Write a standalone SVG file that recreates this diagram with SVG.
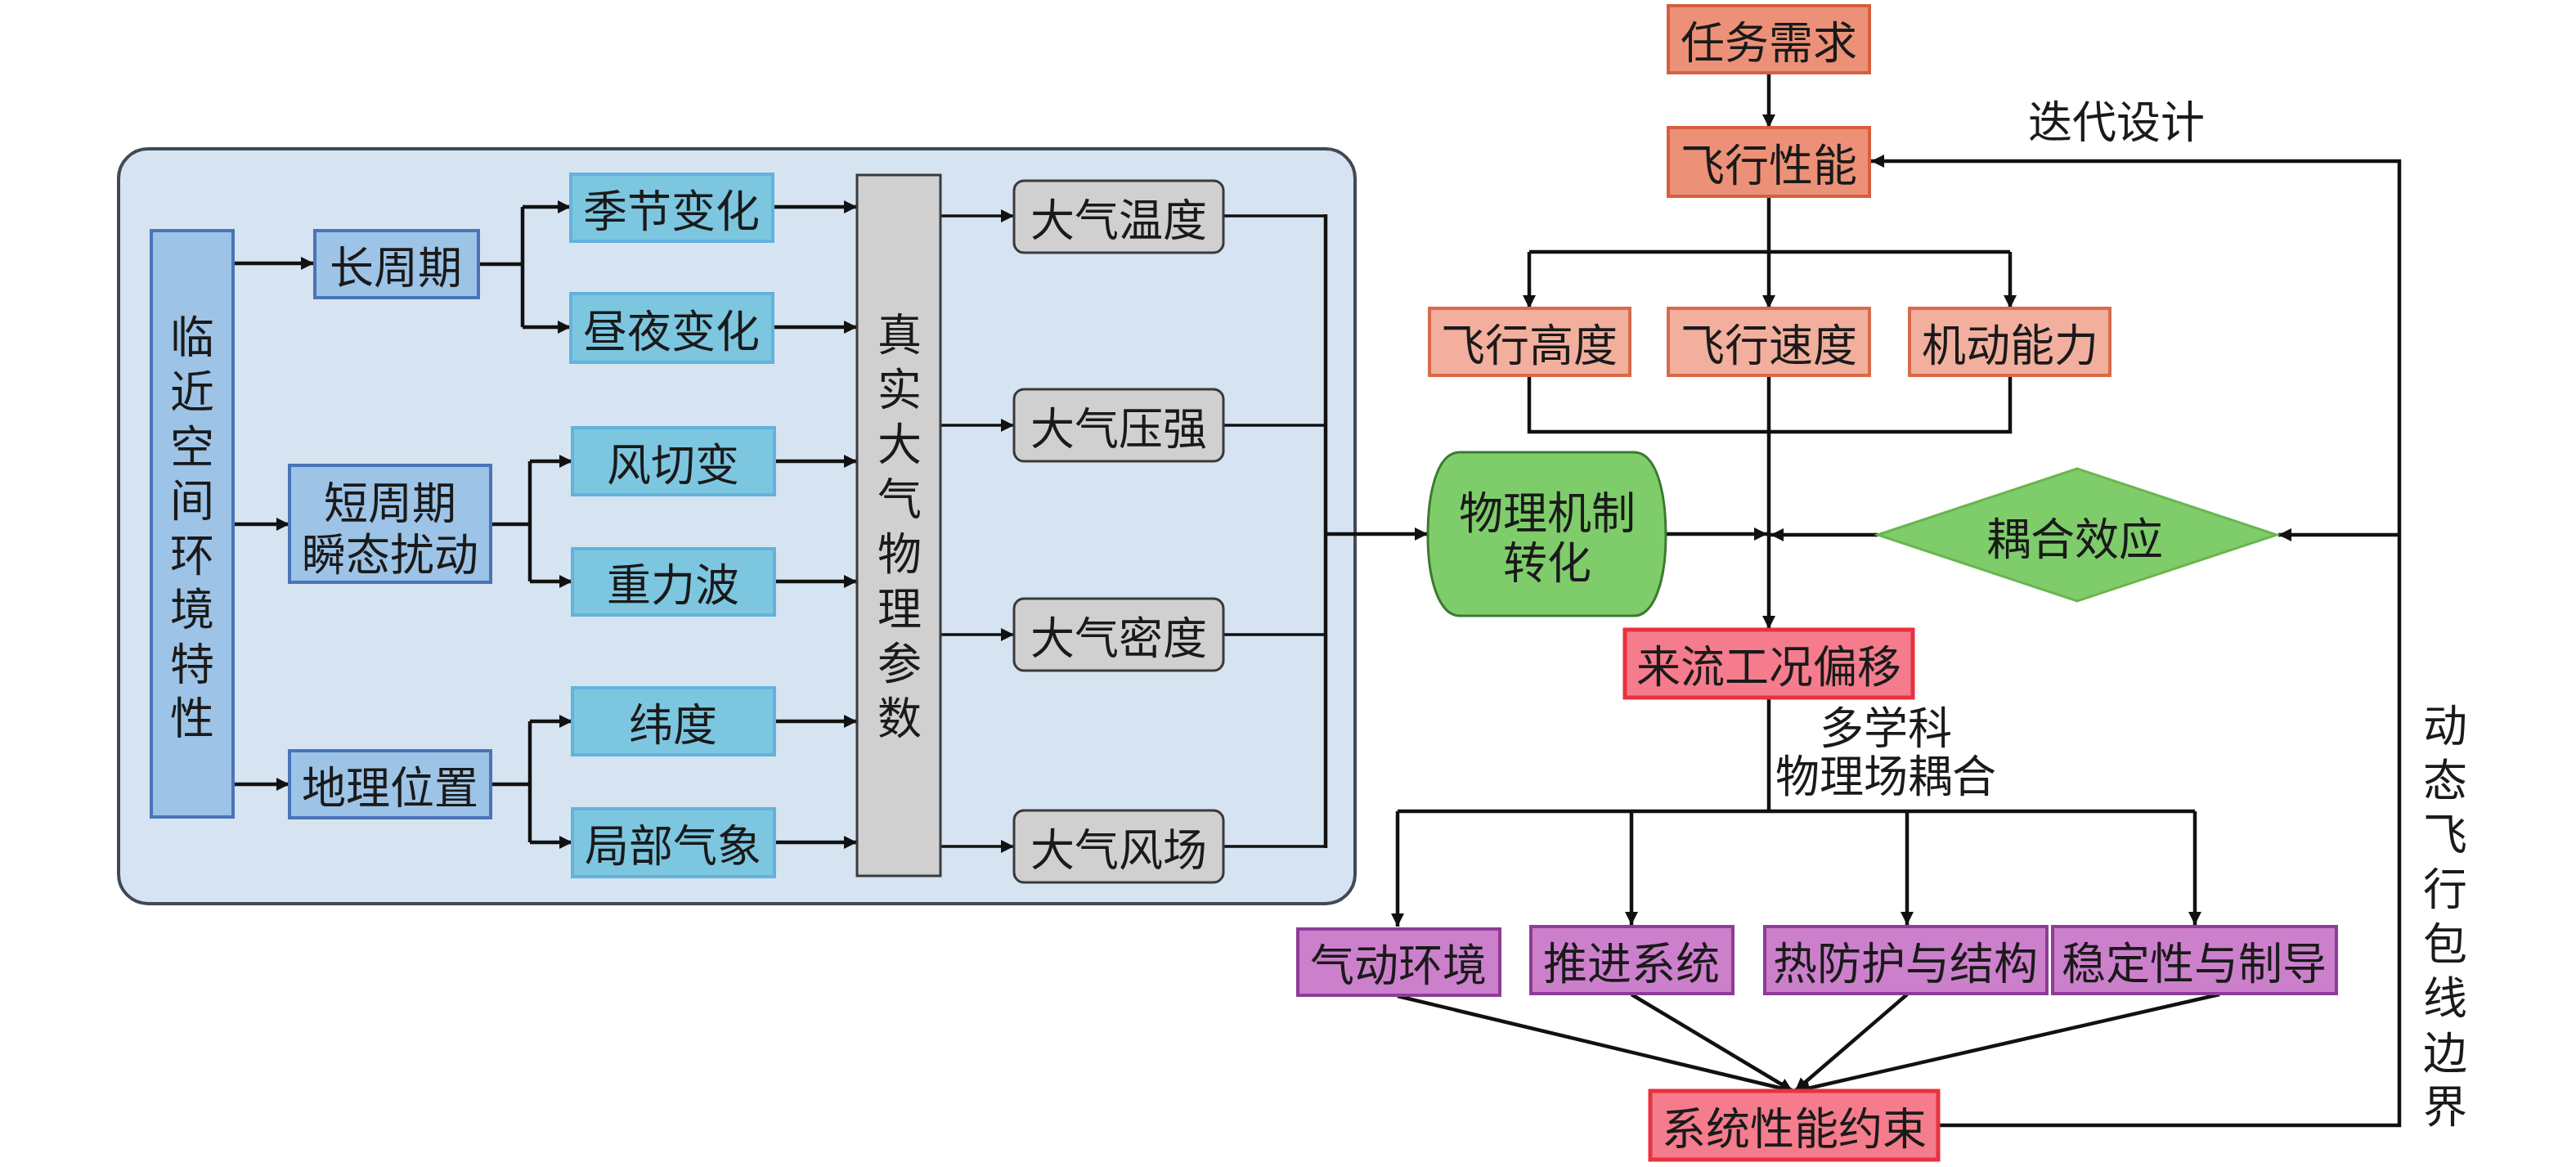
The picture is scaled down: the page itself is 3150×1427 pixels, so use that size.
<svg xmlns="http://www.w3.org/2000/svg" width="3150" height="1427" viewBox="0 0 3150 1427">
<defs>
<marker id="ah" viewBox="0 0 10 10" refX="10" refY="5" markerWidth="20" markerHeight="16" markerUnits="userSpaceOnUse" orient="auto"><path d="M0,0 L10,5 L0,10 z" fill="#111"/></marker>
<style>
text{font-family:"Noto Sans CJK SC","Noto Sans",sans-serif;font-size:54px;fill:#1a1a1a;text-anchor:middle;dominant-baseline:central}
.blue{fill:#9DC3E6;stroke:#4A74B8;stroke-width:4}
.cyan{fill:#7DC6E0;stroke:#62B3DC;stroke-width:4}
.gray{fill:#D0D0D0;stroke:#3A3A3A;stroke-width:3}
.sal{fill:#EC9178;stroke:#D65F3E;stroke-width:4}
.sal2{fill:#F2AF9E;stroke:#D86A4B;stroke-width:4}
.grn{fill:#7FCC6B;stroke:#3C7A30;stroke-width:3}
.grn2{fill:#7FCC6B;stroke:#6AB54E;stroke-width:3}
.red{fill:#F47C8C;stroke:#E8323F;stroke-width:5}
.pur{fill:#CC80CC;stroke:#8E3C96;stroke-width:4}
.c{fill:none;stroke:#111;stroke-width:4.5}
.ca{fill:none;stroke:#111;stroke-width:4.5;marker-end:url(#ah)}
.t{fill:none;stroke:#111;stroke-width:3.5}
.ta{fill:none;stroke:#111;stroke-width:3.5;marker-end:url(#ah)}
</style>
</defs>
<rect width="3150" height="1427" fill="#fff"/>
<rect id="panel" x="145" y="182" width="1512" height="923" rx="36" fill="#D6E4F2" stroke="#404A55" stroke-width="4"/>

<g id="connectors">
<path class="ca" d="M285,322 H384"/>
<path class="ca" d="M285,641 H354"/>
<path class="ca" d="M285,959 H354"/>
<path class="c" d="M585,323 H639 M639,253 V400"/>
<path class="ca" d="M639,253 H698"/>
<path class="ca" d="M639,400 H698"/>
<path class="c" d="M600,641 H648 M648,564 V711"/>
<path class="ca" d="M648,564 H700"/>
<path class="ca" d="M648,711 H700"/>
<path class="c" d="M600,959 H648 M648,882 V1030"/>
<path class="ca" d="M648,882 H700"/>
<path class="ca" d="M648,1030 H700"/>
<path class="ca" d="M945,253 H1048"/>
<path class="ca" d="M945,400 H1048"/>
<path class="ca" d="M947,564 H1048"/>
<path class="ca" d="M947,711 H1048"/>
<path class="ca" d="M947,882 H1048"/>
<path class="ca" d="M947,1030 H1048"/>
<path class="ta" d="M1150,264 H1240"/>
<path class="ta" d="M1150,520 H1240"/>
<path class="ta" d="M1150,776 H1240"/>
<path class="ta" d="M1150,1035 H1240"/>
<path class="t" d="M1496,264 H1621 M1496,520 H1621 M1496,776 H1621 M1496,1035 H1621"/>
<path class="c" d="M1621,262 V1037"/>
<path class="ca" d="M1621,653 H1746"/>

<path class="ca" d="M2163,89 V156"/>
<path class="c" d="M2163,240 V308 M1870,308 H2458"/>
<path class="ca" d="M1870,308 V377"/>
<path class="ca" d="M2163,308 V377"/>
<path class="ca" d="M2458,308 V377"/>
<path class="c" d="M1870,459 V528 H2458 V459"/>
<path class="ca" d="M2163,459 V769"/>
<path class="ca" d="M2037,653 H2161"/>
<path class="ca" d="M2296,654 H2165"/>
<path class="ca" d="M2934,654 H2786"/>
<path class="c" d="M2163,853 V992 M1709,992 H2684"/>
<path class="ca" d="M1709,992 V1133"/>
<path class="ca" d="M1995,992 V1131"/>
<path class="ca" d="M2332,992 V1131"/>
<path class="ca" d="M2684,992 V1131"/>
<path class="ca" d="M1709,1218 L2192,1334"/>
<path class="ca" d="M1995,1216 L2192,1334"/>
<path class="ca" d="M2332,1216 L2195,1334"/>
<path class="ca" d="M2714,1216 L2197,1334"/>
<path class="ca" d="M2370,1376 H2934 V197 H2288"/>
</g>

<g id="n_env"><rect class="blue" x="185" y="282" width="100" height="717"/>
<text x="235" y="408">临</text><text x="235" y="475">近</text><text x="235" y="542">空</text><text x="235" y="608">间</text><text x="235" y="675">环</text><text x="235" y="741">境</text><text x="235" y="808">特</text><text x="235" y="874">性</text></g>
<g id="n_long"><rect class="blue" x="385" y="282" width="200" height="82"/><text x="484" y="323">长周期</text></g>
<g id="n_short"><rect class="blue" x="354" y="569" width="246" height="143"/><text x="477" y="611">短周期</text><text x="477" y="674">瞬态扰动</text></g>
<g id="n_geo"><rect class="blue" x="354" y="918" width="246" height="82"/><text x="477" y="959">地理位置</text></g>

<g id="n_season"><rect class="cyan" x="698" y="213" width="247" height="82"/><text x="821" y="254">季节变化</text></g>
<g id="n_day"><rect class="cyan" x="698" y="359" width="247" height="84"/><text x="821" y="401">昼夜变化</text></g>
<g id="n_shear"><rect class="cyan" x="700" y="523" width="247" height="82"/><text x="823" y="564">风切变</text></g>
<g id="n_grav"><rect class="cyan" x="700" y="671" width="247" height="81"/><text x="823" y="711">重力波</text></g>
<g id="n_lat"><rect class="cyan" x="700" y="841" width="247" height="82"/><text x="823" y="882">纬度</text></g>
<g id="n_local"><rect class="cyan" x="700" y="989" width="247" height="83"/><text x="823" y="1030">局部气象</text></g>

<g id="n_real"><rect class="gray" x="1048" y="214" width="102" height="857"/>
<text x="1100" y="405">真</text><text x="1100" y="472">实</text><text x="1100" y="539">大</text><text x="1100" y="606">气</text><text x="1100" y="673">物</text><text x="1100" y="740">理</text><text x="1100" y="807">参</text><text x="1100" y="874">数</text></g>
<g id="n_temp"><rect class="gray" x="1240" y="221" width="256" height="88" rx="12"/><text x="1368" y="265">大气温度</text></g>
<g id="n_pres"><rect class="gray" x="1240" y="476" width="256" height="88" rx="12"/><text x="1368" y="520">大气压强</text></g>
<g id="n_dens"><rect class="gray" x="1240" y="732" width="256" height="88" rx="12"/><text x="1368" y="776">大气密度</text></g>
<g id="n_wind"><rect class="gray" x="1240" y="991" width="256" height="88" rx="12"/><text x="1368" y="1035">大气风场</text></g>

<g id="n_task"><rect class="sal" x="2040" y="7" width="246" height="82"/><text x="2163" y="48">任务需求</text></g>
<g id="n_perf"><rect class="sal" x="2040" y="156" width="246" height="84"/><text x="2163" y="198">飞行性能</text></g>
<g id="n_alt"><rect class="sal2" x="1748" y="377" width="245" height="82"/><text x="1870" y="418">飞行高度</text></g>
<g id="n_spd"><rect class="sal2" x="2040" y="377" width="246" height="82"/><text x="2163" y="418">飞行速度</text></g>
<g id="n_man"><rect class="sal2" x="2335" y="377" width="245" height="82"/><text x="2458" y="418">机动能力</text></g>

<g id="n_phys"><path class="grn" d="M1785,553 H1998 C2025,553 2037,600 2037,655 C2037,712 2022,753 1998,753 H1785 C1761,753 1746,712 1746,655 C1746,600 1758,553 1785,553 Z"/>
<text x="1892" y="623">物理机制</text><text x="1892" y="684">转化</text></g>
<g id="n_coup"><path class="grn2" d="M2296,654 L2540,573 L2784,654 L2540,735 Z"/><text x="2537" y="655">耦合效应</text></g>

<g id="n_flow"><rect class="red" x="1987" y="770" width="352" height="83"/><text x="2163" y="811">来流工况偏移</text></g>

<g id="n_aero"><rect class="pur" x="1587" y="1136" width="247" height="81"/><text x="1710" y="1176">气动环境</text></g>
<g id="n_prop"><rect class="pur" x="1872" y="1133" width="247" height="82"/><text x="1995" y="1174">推进系统</text></g>
<g id="n_therm"><rect class="pur" x="2158" y="1133" width="345" height="82"/><text x="2330" y="1174">热防护与结构</text></g>
<g id="n_stab"><rect class="pur" x="2510" y="1133" width="347" height="82"/><text x="2683" y="1174">稳定性与制导</text></g>

<g id="n_sys"><rect class="red" x="2018" y="1334" width="352" height="84"/><text x="2194" y="1376">系统性能约束</text></g>

<g id="labels">
<text x="2588" y="145">迭代设计</text>
<text x="2306" y="886">多学科</text>
<text x="2306" y="945">物理场耦合</text>
<text x="2990" y="883">动</text><text x="2990" y="950">态</text><text x="2990" y="1016">飞</text><text x="2990" y="1083">行</text><text x="2990" y="1150">包</text><text x="2990" y="1216">线</text><text x="2990" y="1283">边</text><text x="2990" y="1349">界</text>
</g>
</svg>
